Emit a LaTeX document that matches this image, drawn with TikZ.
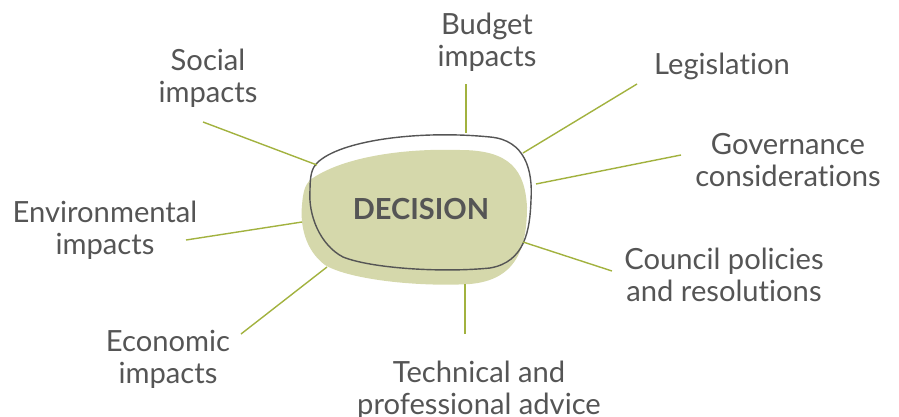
\documentclass[tikz,border=0pt]{standalone}
\usepackage{fontspec}
\setmainfont{Lato}[Ligatures={NoCommon}]
\usepackage{xcolor}
\usepackage{tikz}
\definecolor{ink}{HTML}{555555}
\definecolor{olive}{HTML}{A2B23F}
\definecolor{sage}{HTML}{D5D8AB}
\tikzset{
  spoke/.style={draw=olive, line width=0.8pt},
  rim/.style={draw=ink, line width=0.8pt},
  lab/.style={text=ink, font=\fontsize{16.6}{18.2}\selectfont, align=center, inner sep=0pt},
  core/.style={text=ink, font=\fontsize{16.5}{19}\selectfont\bfseries, inner sep=0pt},
}
\begin{document}
\begin{tikzpicture}[x=0.02cm, y=-0.02cm]
  \useasboundingbox (0,0) rectangle (899,416);
  % blob behind the outline
  \fill[sage] (310,180) .. controls (340,158) and (400,148) .. (460,150)
    .. controls (510,150) and (525,170) .. (527,207)
    .. controls (527,250) and (515,280) .. (470,284)
    .. controls (420,287) and (350,280) .. (325,265)
    .. controls (305,250) and (300,225) .. (302,205)
    .. controls (303,192) and (305,185) .. (310,180) -- cycle;
  \draw[rim] (317,163) .. controls (340,140) and (420,130) .. (490,137)
    .. controls (525,140) and (533,170) .. (531,200)
    .. controls (530,230) and (525,262) .. (490,268)
    .. controls (440,273) and (370,268) .. (343,257)
    .. controls (320,245) and (308,215) .. (310,190)
    .. controls (310,175) and (312,168) .. (317,163) -- cycle;
  \node[core] (dec) at (421,209) {DECISION};
  % labels
  \node[lab] (soc) at (208,78) {Social\\impacts};
  \node[lab] (bud) at (487,42) {Budget\\impacts};
  \node[lab] (leg) at (722,66) {Legislation};
  \node[lab] (gov) at (788,160) {Governance\\considerations};
  \node[lab] (env) at (105,230) {Environmental\\impacts};
  \node[lab] (cou) at (724,275) {Council policies\\and resolutions};
  \node[lab] (eco) at (168,359) {Economic\\impacts};
  \node[lab] (tec) at (479,390) {Technical and\\professional advice};
  % spoke ends
  \coordinate (soc-a) at (203,122); \coordinate (soc-b) at (317,165);
  \coordinate (bud-a) at (466,84);  \coordinate (bud-b) at (466,133);
  \coordinate (leg-a) at (637,84);  \coordinate (leg-b) at (523,153);
  \coordinate (gov-a) at (681,155); \coordinate (gov-b) at (536,184);
  \coordinate (env-a) at (186,240); \coordinate (env-b) at (302,222);
  \coordinate (cou-a) at (612,271); \coordinate (cou-b) at (523,242);
  \coordinate (eco-a) at (241,334); \coordinate (eco-b) at (327,267);
  \coordinate (tec-a) at (465,334); \coordinate (tec-b) at (465,284);
  \foreach \s in {soc,bud,leg,gov,env,cou,eco,tec}
    \draw[spoke] (\s-a) -- (\s-b);
\end{tikzpicture}
\end{document}
